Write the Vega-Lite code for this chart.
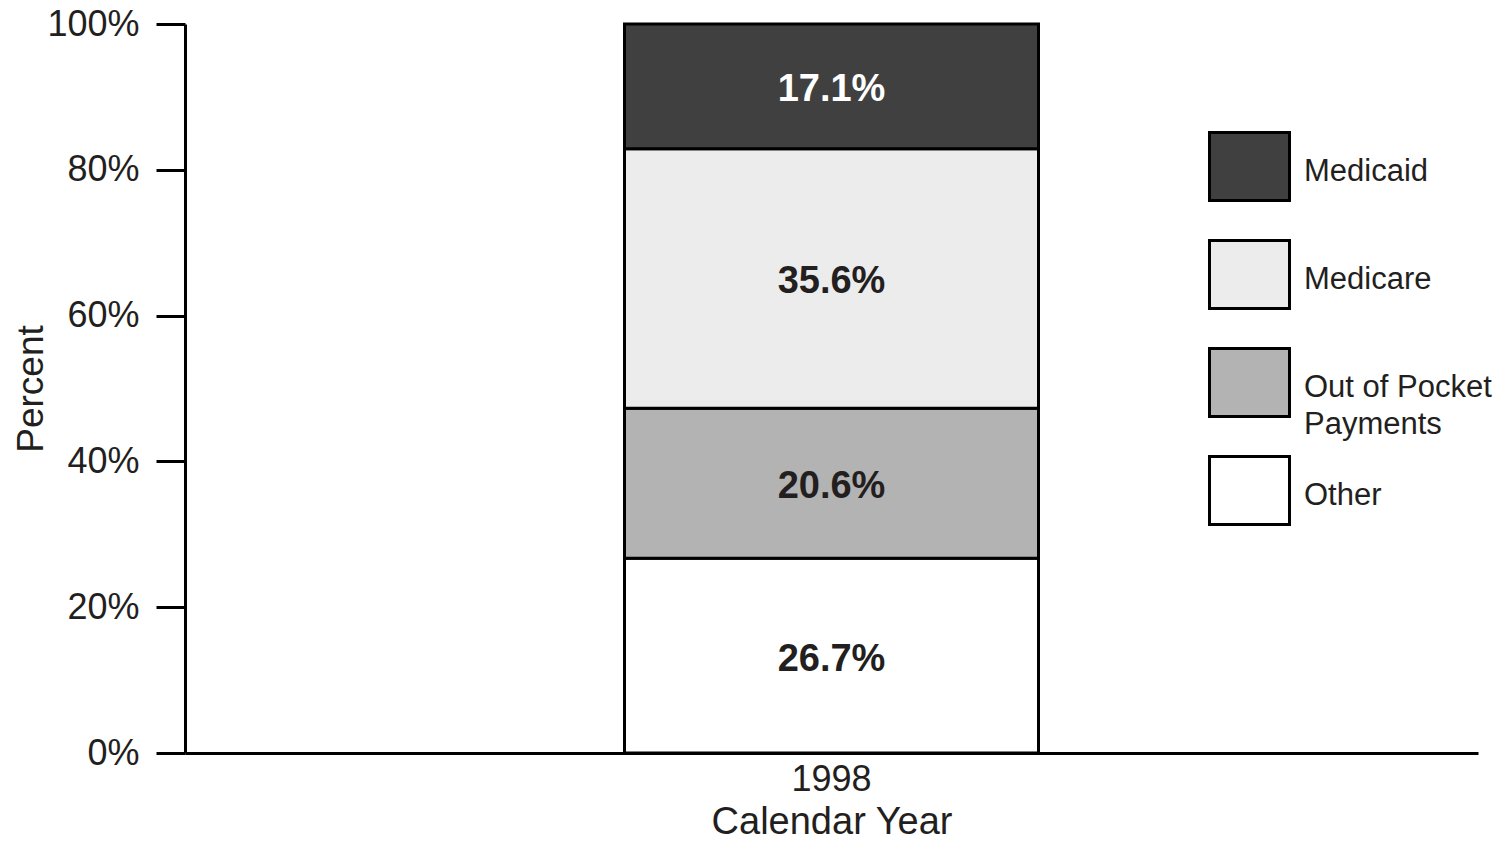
{
  "$schema": "https://vega.github.io/schema/vega-lite/v6.json",
  "width": 1293,
  "height": 729,
  "autosize": {"type": "none"},
  "padding": {"left": 185, "top": 24, "right": 25, "bottom": 89},
  "background": "white",
  "config": {
    "view": {"stroke": null},
    "font": "Liberation Sans",
    "axis": {"grid": false, "domainColor": "black", "tickColor": "black", "labelColor": "#231f20", "titleColor": "#231f20", "labelFont": "Liberation Sans", "titleFont": "Liberation Sans", "titleFontWeight": "normal"}
  },
  "data": {
    "values": [
      {"year": "1998", "cat": "Other", "ord": 1, "value": 26.7, "label": "26.7%"},
      {"year": "1998", "cat": "Out of Pocket Payments", "ord": 2, "value": 20.6, "label": "20.6%"},
      {"year": "1998", "cat": "Medicare", "ord": 3, "value": 35.6, "label": "35.6%"},
      {"year": "1998", "cat": "Medicaid", "ord": 4, "value": 17.1, "label": "17.1%"}
    ]
  },
  "encoding": {
    "x": {
      "field": "year", "type": "nominal",
      "axis": {"title": "Calendar Year", "labelAngle": 0, "ticks": false, "domainWidth": 3, "labelFontSize": 36, "labelPadding": 9, "titleFontSize": 38, "titlePadding": 6}
    },
    "y": {
      "field": "value", "type": "quantitative", "stack": "zero",
      "scale": {"domain": [0, 100], "nice": false},
      "axis": {"title": "Percent", "values": [0, 20, 40, 60, 80, 100], "labelExpr": "datum.value + '%'", "tickSize": 29, "tickWidth": 3, "domainWidth": 3, "labelFontSize": 36, "labelPadding": 17, "titleFontSize": 37, "titlePadding": -4}
    },
    "order": {"field": "ord", "type": "quantitative"}
  },
  "layer": [
    {
      "mark": {"type": "bar", "size": 414, "stroke": "black", "strokeWidth": 3},
      "encoding": {
        "color": {
          "field": "cat", "type": "nominal",
          "scale": {"domain": ["Medicaid", "Medicare", "Out of Pocket Payments", "Other"], "range": ["#404040", "#ececec", "#b3b3b3", "#ffffff"]},
          "legend": {
            "title": null, "orient": "none", "legendX": 1023, "legendY": 101,
            "symbolType": "M-1,-0.85H1V0.85H-1Z", "symbolSize": 6400,
            "symbolStrokeColor": "black", "symbolStrokeWidth": 3,
            "labelFontSize": 31, "labelColor": "#231f20", "labelOffset": 13, "labelFont": "Liberation Sans",
            "rowPadding": 9, "gridAlign": "all",
            "labelExpr": "datum.label == 'Out of Pocket Payments' ? ['Out of Pocket', 'Payments'] : datum.label",
            "labelLimit": 300,
            "encode": {"labels": {"update": {"lineHeight": {"value": 37}, "dy": {"value": 5}}}}
          }
        }
      }
    },
    {
      "mark": {"type": "text", "fontSize": 38, "fontWeight": "bold", "font": "Liberation Sans", "baseline": "middle", "dy": 4},
      "encoding": {
        "y": {"field": "value", "type": "quantitative", "stack": "zero", "bandPosition": 0.5},
        "detail": {"field": "cat"},
        "text": {"field": "label"},
        "color": {"condition": {"test": "datum.cat === 'Medicaid'", "value": "white"}, "value": "#231f20"}
      }
    }
  ]
}
